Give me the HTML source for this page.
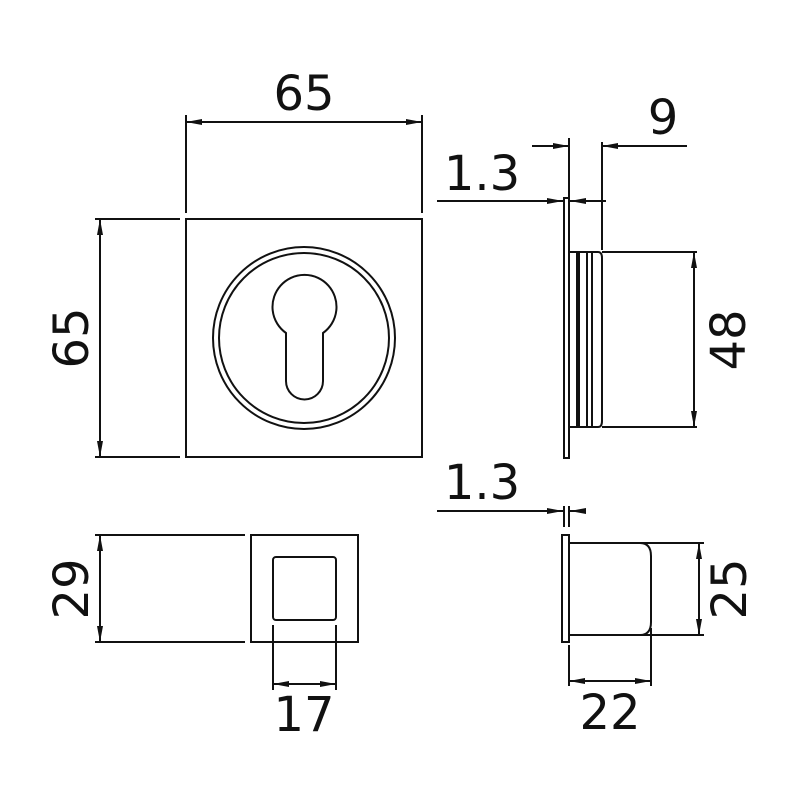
<!DOCTYPE html>
<html><head><meta charset="utf-8"><style>
html,body{margin:0;padding:0;background:#fff}
svg{display:block}
text{font-family:"DejaVu Sans","Liberation Sans",sans-serif;font-size:48px;fill:#111}
</style></head><body>
<svg width="800" height="800" viewBox="0 0 800 800" xmlns="http://www.w3.org/2000/svg">
<defs>
<marker id="a" viewBox="0 0 16 6" refX="16" refY="3" markerWidth="16" markerHeight="6" markerUnits="userSpaceOnUse" orient="auto-start-reverse">
<path d="M0,0 L16,3 L0,6 Z" fill="#111"/></marker>
</defs>
<g stroke="#111" stroke-width="2" fill="none">
<!-- front view -->
<rect x="186" y="219" width="236" height="238"/>
<circle cx="304" cy="338" r="91"/>
<circle cx="304" cy="338" r="85"/>
<path d="M286,333 A32,32 0 1 1 323,333 L323,381 A18.5,18.5 0 0 1 286,381 Z"/>
<!-- 65 top -->
<line x1="186" y1="115" x2="186" y2="213"/>
<line x1="422" y1="115" x2="422" y2="213"/>
<line x1="186" y1="122" x2="422" y2="122" marker-start="url(#a)" marker-end="url(#a)"/>
<!-- 65 left -->
<line x1="95" y1="219" x2="180" y2="219"/>
<line x1="95" y1="457" x2="180" y2="457"/>
<line x1="100" y1="219" x2="100" y2="457" marker-start="url(#a)" marker-end="url(#a)"/>
<!-- side view -->
<rect x="564" y="198" width="5" height="260"/>
<path d="M569,252 L598,252 Q602,252 602,258 L602,421 Q602,427 598,427 L569,427"/>
<line x1="577" y1="252" x2="577" y2="427"/>
<line x1="579" y1="252" x2="579" y2="427"/>
<line x1="587" y1="252" x2="587" y2="427"/>
<line x1="592" y1="252" x2="592" y2="427"/>
<line x1="602" y1="252" x2="697" y2="252"/>
<line x1="602" y1="427" x2="697" y2="427"/>
<line x1="694" y1="252" x2="694" y2="427" marker-start="url(#a)" marker-end="url(#a)"/>
<line x1="569" y1="138" x2="569" y2="198"/>
<line x1="602" y1="142" x2="602" y2="250"/>
<line x1="532" y1="146" x2="569" y2="146" marker-end="url(#a)"/>
<line x1="687" y1="146" x2="602" y2="146" marker-end="url(#a)"/>
<line x1="437" y1="201" x2="563" y2="201" marker-end="url(#a)"/>
<line x1="606" y1="201" x2="570" y2="201" marker-end="url(#a)"/>
<!-- bottom right -->
<rect x="562" y="535" width="7" height="107"/>
<path d="M569,543 L640,543 Q651,543 651,556 L651,622 Q651,635 640,635 L569,635"/>
<line x1="640" y1="543" x2="704" y2="543"/>
<line x1="640" y1="635" x2="704" y2="635"/>
<line x1="699" y1="543" x2="699" y2="635" marker-start="url(#a)" marker-end="url(#a)"/>
<line x1="569" y1="645" x2="569" y2="686"/>
<line x1="651" y1="628" x2="651" y2="686"/>
<line x1="569" y1="681" x2="651" y2="681" marker-start="url(#a)" marker-end="url(#a)"/>
<line x1="564" y1="506" x2="564" y2="527"/>
<line x1="569" y1="506" x2="569" y2="527"/>
<line x1="437" y1="511" x2="563" y2="511" marker-end="url(#a)"/>
<line x1="583" y1="511" x2="570" y2="511" marker-end="url(#a)"/>
<!-- bottom left -->
<line x1="95" y1="535" x2="245" y2="535"/>
<line x1="95" y1="642" x2="245" y2="642"/>
<line x1="100" y1="535" x2="100" y2="642" marker-start="url(#a)" marker-end="url(#a)"/>
<rect x="251" y="535" width="107" height="107"/>
<rect x="273" y="557" width="63" height="63" rx="3"/>
<line x1="273" y1="625" x2="273" y2="690"/>
<line x1="336" y1="625" x2="336" y2="690"/>
<line x1="273" y1="684" x2="336" y2="684" marker-start="url(#a)" marker-end="url(#a)"/>
</g>
<text x="304" y="110" text-anchor="middle">65</text>
<text transform="translate(88,338) rotate(-90)" text-anchor="middle">65</text>
<text x="482" y="190" text-anchor="middle">1.3</text>
<text x="663" y="134" text-anchor="middle">9</text>
<text transform="translate(745,340) rotate(-90)" text-anchor="middle">48</text>
<text x="482" y="499" text-anchor="middle">1.3</text>
<text transform="translate(746,589) rotate(-90)" text-anchor="middle">25</text>
<text x="610" y="729" text-anchor="middle">22</text>
<text transform="translate(88,589) rotate(-90)" text-anchor="middle">29</text>
<text x="304" y="731" text-anchor="middle">17</text>
</svg>
</body></html>
